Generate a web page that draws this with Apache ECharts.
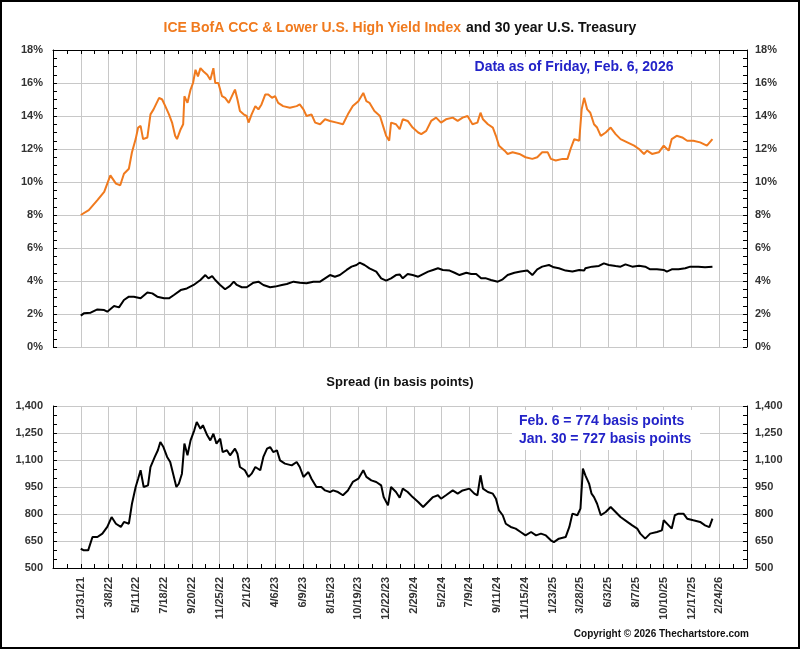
<!DOCTYPE html>
<html>
<head>
<meta charset="utf-8">
<script src="https://cdn.jsdelivr.net/npm/echarts@6/dist/echarts.min.js"></script>
<style>
  html, body { margin: 0; padding: 0; background: #fff; }
  #chart { width: 800px; height: 649px; }
</style>
</head>
<body>
<div id="chart"></div>
<script>
// x values are trading-day counts from 12/31/21, a tick every 45 days
var tickLabels = ['12/31/21', '3/8/22', '5/11/22', '7/18/22', '9/20/22', '11/25/22', '2/1/23', '4/6/23',
  '6/9/23', '8/15/23', '10/19/23', '12/22/23', '2/29/24', '5/2/24', '7/9/24', '9/11/24', '11/15/24',
  '1/23/25', '3/28/25', '6/3/25', '8/7/25', '10/10/25', '12/17/25', '2/24/26'];

// ICE BofA CCC & Lower US High Yield index, effective yield (%)
var hyDays = [0,13,27,38,48,57,64,70,78,83, 89,93,97,101,108,113,118,127,132,137,
  143,148,153,156,162,166,168,173,178,182, 186,190,194,199,205,210,215,218,223,229,
  234,240,245,250,254,258,264,269,272,277, 283,288,293,299,304,310,315,320,328,339,
  350,355,361,366,374,380,388,396,404,415, 425,433,441,450,458,463,468,476,485,490,
  495,500,503,511,517,522,530,538,547,552, 560,568,576,584,592,603,611,619,627,635,
  643,648,652,660,668,673,678,687,692,700, 711,721,732,740,748,757,762,770,781,789,
  794,800,808,812,816,821,826,832,837,843, 851,859,867,875,886,897,905,913,918,926,
  937,945,953,958,966,975,983,993,1004,1015, 1018,1024];
var hyYield = [8.0,8.3,8.9,9.4,10.4,9.9,9.8,10.5,10.8,11.8, 12.6,13.3,13.4,12.6,12.7,14.1,14.4,15.1,15.0,14.6,
  14.1,13.6,12.8,12.6,13.2,13.5,15.2,14.8,15.6,16.0, 16.8,16.4,16.9,16.7,16.5,16.2,16.9,16.0,16.0,15.2,
  15.1,14.8,15.2,15.6,15.0,14.3,14.1,14.0,13.6,14.1, 14.6,14.4,14.7,15.3,15.3,15.1,15.2,14.8,14.6,14.5,
  14.6,14.7,14.4,14.0,14.1,13.6,13.5,13.8,13.7,13.6, 13.5,14.1,14.6,14.9,15.4,14.9,14.8,14.3,14.0,13.4,
  12.8,12.5,13.6,13.5,13.2,13.8,13.7,13.3,13.0,12.9, 13.1,13.7,13.9,13.6,13.8,13.9,13.7,13.9,14.0,13.5,
  13.6,14.2,13.8,13.5,13.3,12.8,12.2,11.9,11.7,11.8, 11.7,11.5,11.4,11.5,11.8,11.8,11.4,11.3,11.4,11.4,
  12.0,12.6,12.5,14.4,15.1,14.4,14.2,13.5,13.3,12.8, 13.0,13.3,12.9,12.6,12.4,12.2,12.0,11.7,11.9,11.7,
  11.8,12.2,11.9,12.6,12.8,12.7,12.5,12.5,12.4,12.2, 12.1,12.6];

// 30 year US Treasury yield (%)
var tsyDays = [0,5,16,27,38,43,54,62,70,78, 86,97,108,116,124,135,143,151,162,172,
  183,194,202,207,213,218,226,234,242,248, 253,261,269,280,288,296,307,315,326,334,
  345,355,366,377,388,396,404,412,420,431, 439,447,452,460,468,479,487,495,503,511,
  517,522,530,538,547,555,563,571,579,587, 598,606,614,625,633,641,649,657,665,676,
  684,692,703,713,724,732,740,748,759,767, 775,786,797,808,816,818,829,840,848,856,
  867,875,883,894,905,915,923,934,945,950, 958,969,980,988,1001,1012,1024];
var tsyYield = [1.9,2.04,2.08,2.28,2.24,2.14,2.48,2.4,2.85,3.05, 3.05,2.95,3.3,3.25,3.05,2.95,2.95,3.15,3.45,3.55,
  3.76,4.06,4.36,4.16,4.3,4.06,3.76,3.5,3.7,3.96, 3.76,3.62,3.62,3.9,3.96,3.76,3.62,3.66,3.76,3.82,
  3.96,3.9,3.86,3.96,3.96,4.16,4.36,4.26,4.36,4.67, 4.87,4.97,5.11,4.97,4.77,4.57,4.16,4.02,4.16,4.36,
  4.4,4.16,4.42,4.36,4.26,4.42,4.57,4.67,4.77,4.67, 4.63,4.5,4.36,4.5,4.42,4.42,4.16,4.16,4.06,3.96,
  4.1,4.36,4.5,4.57,4.63,4.36,4.71,4.87,4.97,4.83, 4.77,4.63,4.57,4.67,4.63,4.77,4.87,4.91,5.07,4.97,
  4.91,4.87,5.01,4.87,4.93,4.87,4.71,4.71,4.67,4.57, 4.71,4.71,4.77,4.87,4.87,4.83,4.87];

// spread in basis points
var sprDays = [0,5,12,19,27,35,43,50,57,65, 70,78,83,89,93,97,100,102,109,113,
  120,125,129,134,140,145,151,155,159,164, 168,173,178,184,188,194,198,205,210,215,
  220,226,230,237,242,250,254,258,266,272, 277,283,291,296,302,307,312,318,323,331,
  342,350,355,361,369,374,382,390,396,404, 409,417,425,433,441,450,458,463,471,479,
  487,491,498,503,511,517,522,530,538,547, 555,563,571,579,584,592,603,611,619,630,
  638,643,648,652,660,668,673,678,684,689, 697,705,713,721,730,738,746,754,762,767,
  775,786,792,797,805,810,814,818,824,828, 832,837,843,851,859,867,875,886,894,902,
  907,915,923,934,942,945,953,958,963,969, 977,983,993,1004,1012,1019,1024];
var spread = [607,598,598,672,672,691,728,783,746,728, 756,746,857,950,996,1043,1033,950,959,1061,
  1117,1154,1200,1172,1117,1089,1006,950,968,1024, 1191,1126,1209,1265,1311,1274,1293,1237,1209,1246,
  1191,1219,1144,1154,1126,1163,1135,1061,1043,1006, 1024,1061,1043,1117,1163,1172,1144,1154,1098,1080,
  1070,1089,1061,1006,1033,996,950,950,931,922, 931,922,904,931,978,996,1043,1006,987,978,
  959,894,848,950,922,890,941,922,894,867, 839,867,894,904,885,904,931,913,931,941,
  913,904,1015,941,922,913,885,820,793,746, 728,719,700,681,700,681,691,681,654,644,
  663,672,728,802,793,830,1052,1015,969,913, 894,857,793,811,839,811,783,756,737,719,
  691,663,691,700,709,765,737,719,793,802, 802,774,765,756,737,727,774];

function zip(a, b) {
  var out = [];
  for (var i = 0; i < a.length; i++) out.push([a[i], b[i]]);
  return out;
}

var font = 'Liberation Sans, Arial, sans-serif';
var gridColor = '#c8c8c8';
var blue = '#2323C8';
var labelStyle = { color: '#333', fontWeight: 'bold', fontSize: 11, fontFamily: font };

function xAxisFor(gi, pos, showLabels) {
  return {
    type: 'value', gridIndex: gi, position: pos,
    min: -45, max: 1080, interval: 45,
    axisLine: { show: true, onZero: false, lineStyle: { color: '#000', width: 1 } },
    axisTick: { show: true, inside: true, length: 4, lineStyle: { color: '#000' } },
    minorTick: { show: true, splitNumber: 2, length: 4, lineStyle: { color: '#000' } },
    splitLine: { show: true, lineStyle: { color: gridColor, width: 1 } },
    axisLabel: Object.assign({
      show: showLabels, rotate: 90, margin: 9,
      formatter: function (v) {
        var i = Math.round(v / 45);
        return (i >= 0 && i < tickLabels.length) ? tickLabels[i] : '';
      }
    }, labelStyle)
  };
}

function yAxisFor(gi, pos, min, max, step, minor, fmt, split) {
  return {
    type: 'value', gridIndex: gi, position: pos,
    min: min, max: max, interval: step,
    axisLine: { show: true, onZero: false, lineStyle: { color: '#000', width: 1 } },
    axisTick: { show: true, inside: true, length: 4, lineStyle: { color: '#000' } },
    minorTick: { show: true, splitNumber: minor, length: 4, lineStyle: { color: '#000' } },
    splitLine: { show: split, lineStyle: { color: gridColor, width: 1 } },
    axisLabel: Object.assign({ formatter: fmt, margin: pos === 'left' ? 10 : 8 }, labelStyle)
  };
}

var pct = function (v) { return v + '%'; };
var bp = function (v) { return v.toLocaleString('en-US'); };

var myChart = echarts.init(document.getElementById('chart'));
var option = {
  backgroundColor: '#fff',
  animation: false,
  title: {
    text: '{o|ICE BofA CCC & Lower U.S. High Yield Index} {k|and 30 year U.S. Treasury}',
    left: 'center', top: 14,
    textStyle: {
      rich: {
        o: { color: '#F07A1E', fontWeight: 'bold', fontSize: 14, fontFamily: font },
        k: { color: '#111', fontWeight: 'bold', fontSize: 14, fontFamily: font }
      }
    }
  },
  grid: [
    { left: 53, right: 53, top: 50, height: 297 },
    { left: 53, right: 53, top: 406, height: 162 }
  ],
  xAxis: [
    xAxisFor(0, 'top', false),
    xAxisFor(1, 'bottom', true)
  ],
  yAxis: [
    yAxisFor(0, 'left', 0, 18, 2, 4, pct, true),
    yAxisFor(0, 'right', 0, 18, 2, 4, pct, false),
    yAxisFor(1, 'left', 500, 1400, 150, 3, bp, true),
    yAxisFor(1, 'right', 500, 1400, 150, 3, bp, false)
  ],
  graphic: [
    { type: 'rect', shape: { x: 1, y: 1, width: 798, height: 647 },
      style: { fill: null, stroke: '#000', lineWidth: 2 }, z: 100 },
    // white text boxes over the gridlines
    { type: 'rect', shape: { x: 458, y: 57, width: 234, height: 24 },
      style: { fill: '#fff' }, z: 50 },
    { type: 'rect', shape: { x: 512, y: 410, width: 188, height: 40 },
      style: { fill: '#fff' }, z: 50 },
    { type: 'text', x: 574, y: 67, z: 51, style: { text: 'Data as of Friday, Feb. 6, 2026', align: 'center',
      verticalAlign: 'middle', fill: blue, font: 'bold 14px ' + font } },
    { type: 'text', x: 400, y: 382, z: 51, style: { text: 'Spread (in basis points)', align: 'center',
      verticalAlign: 'middle', fill: '#111', font: 'bold 13px ' + font } },
    { type: 'text', x: 519, y: 421, z: 51, style: { text: 'Feb. 6 = 774 basis points', align: 'left',
      verticalAlign: 'middle', fill: blue, font: 'bold 14px ' + font } },
    { type: 'text', x: 519, y: 439, z: 51, style: { text: 'Jan. 30 = 727 basis points', align: 'left',
      verticalAlign: 'middle', fill: blue, font: 'bold 14px ' + font } },
    { type: 'text', x: 749, y: 634, z: 51, style: { text: 'Copyright \u00a9 2026 Thechartstore.com', align: 'right',
      verticalAlign: 'middle', fill: '#111', font: 'bold 10px ' + font } }
  ],
  series: [
    {
      name: 'ICE BofA CCC & Lower', type: 'line', xAxisIndex: 0, yAxisIndex: 0,
      data: zip(hyDays, hyYield), symbol: 'none',
      lineStyle: { color: '#F07A1E', width: 2 }, z: 10
    },
    {
      name: '30 year Treasury', type: 'line', xAxisIndex: 0, yAxisIndex: 0,
      data: zip(tsyDays, tsyYield), symbol: 'none',
      lineStyle: { color: '#000', width: 2 }, z: 10
    },
    {
      name: 'Spread', type: 'line', xAxisIndex: 1, yAxisIndex: 2,
      data: zip(sprDays, spread), symbol: 'none',
      lineStyle: { color: '#000', width: 2 }, z: 10
    }
  ]
};
myChart.setOption(option);
</script>
</body>
</html>
